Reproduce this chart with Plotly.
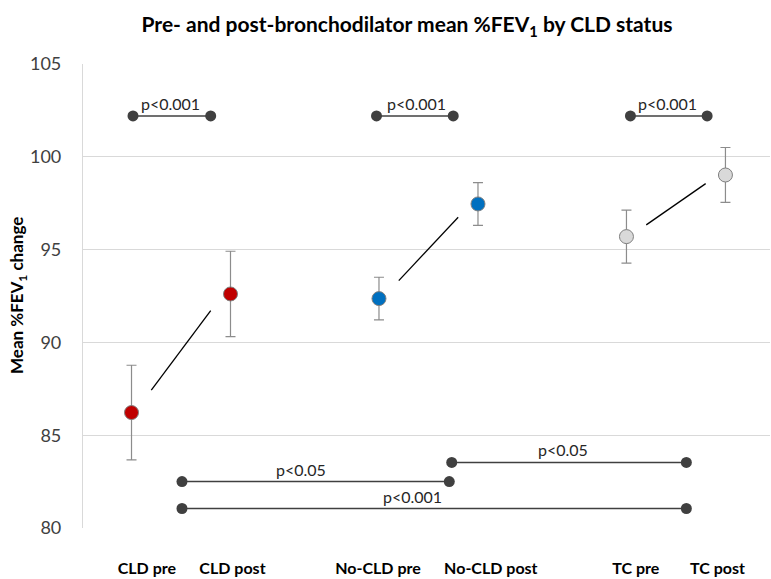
import plotly.graph_objects as go

# Group means and error half-widths (mean %FEV1)
categories = ["CLD pre", "CLD post", "No-CLD pre", "No-CLD post", "TC pre", "TC post"]
x_pos = [1, 3, 6, 8, 11, 13]
means = [86.22, 92.61, 92.36, 97.46, 95.70, 99.02]
err = [2.55, 2.30, 1.15, 1.15, 1.43, 1.48]
colors = ["#C00000", "#C00000", "#0070C0", "#0070C0", "#D9D9D9", "#D9D9D9"]
label_x = [1.31, 3.04, 5.98, 8.26, 11.19, 12.84]

# Significance brackets: x start, x end, level, text, text x
brackets = [
    (1.03, 2.60, 102.2, "p<0.001", 1.78),
    (5.95, 7.50, 102.2, "p<0.001", 6.75),
    (11.08, 12.63, 102.2, "p<0.001", 11.83),
    (2.02, 7.42, 82.5, "p<0.05", 4.43),
    (7.47, 12.21, 83.53, "p<0.05", 9.71),
    (2.02, 12.21, 81.05, "p<0.001", 6.68),
]

FONT = "Lato, 'Open Sans', sans-serif"
fig = go.Figure()

# pre -> post connectors, drawn between each pair of points
for i in range(0, len(x_pos), 2):
    x0, x1 = x_pos[i], x_pos[i + 1]
    y0, y1 = means[i], means[i + 1]
    fig.add_trace(go.Scatter(
        x=[x0 + 0.2 * (x1 - x0), x0 + 0.8 * (x1 - x0)],
        y=[y0 + 0.19 * (y1 - y0), y0 + 0.86 * (y1 - y0)],
        mode="lines", line=dict(color="black", width=1.3),
        hoverinfo="skip", showlegend=False))

# brackets
for xa, xb, yv, txt, tx in brackets:
    fig.add_trace(go.Scatter(
        x=[xa, xb], y=[yv, yv], mode="lines+markers",
        line=dict(color="#404040", width=1.5),
        marker=dict(size=11, color="#404040"),
        hoverinfo="skip", showlegend=False))
    fig.add_annotation(x=tx, y=yv, text=txt, showarrow=False,
                       xanchor="center", yanchor="bottom", yshift=1,
                       font=dict(family=FONT, size=16, color="#262626"))

# means with error bars
fig.add_trace(go.Scatter(
    x=x_pos, y=means, mode="markers",
    marker=dict(size=14, color=colors, line=dict(color="#7F7F7F", width=1)),
    error_y=dict(type="data", array=err, color="#8C8C8C", thickness=1.2, width=5),
    text=categories, showlegend=False))

fig.add_annotation(
    xref="paper", yref="paper", x=(18 - 83) / 687, y=0.5,
    text="<b>Mean %FEV<sub>1</sub> change</b>", textangle=-90,
    showarrow=False, xanchor="center", yanchor="middle",
    font=dict(family=FONT, size=17, color="black"))

fig.update_layout(
    width=771, height=579,
    margin=dict(l=83, r=1, t=64, b=51),
    paper_bgcolor="white", plot_bgcolor="white",
    title=dict(text="<b>Pre- and post-bronchodilator mean %FEV<sub>1</sub> by CLD status</b>",
               x=407 / 771, xanchor="center", y=1 - 25 / 579, yanchor="middle",
               font=dict(family=FONT, size=21, color="black")),
    xaxis=dict(range=[0.02, 13.9], showgrid=False, zeroline=False, showline=False,
               tickvals=label_x, ticktext=categories, ticks="",
               ticklabelstandoff=29,
               tickfont=dict(family=FONT, size=16, color="black", weight="bold")),
    yaxis=dict(range=[80, 105], dtick=5, showgrid=True, gridcolor="#D9D9D9",
               gridwidth=1.2, zeroline=False, showline=True, linecolor="#D9D9D9",
               linewidth=1.2, ticks="", ticklabelstandoff=17,
               tickfont=dict(family=FONT, size=18, color="#404040")),
)

fig.write_html("out.html")
